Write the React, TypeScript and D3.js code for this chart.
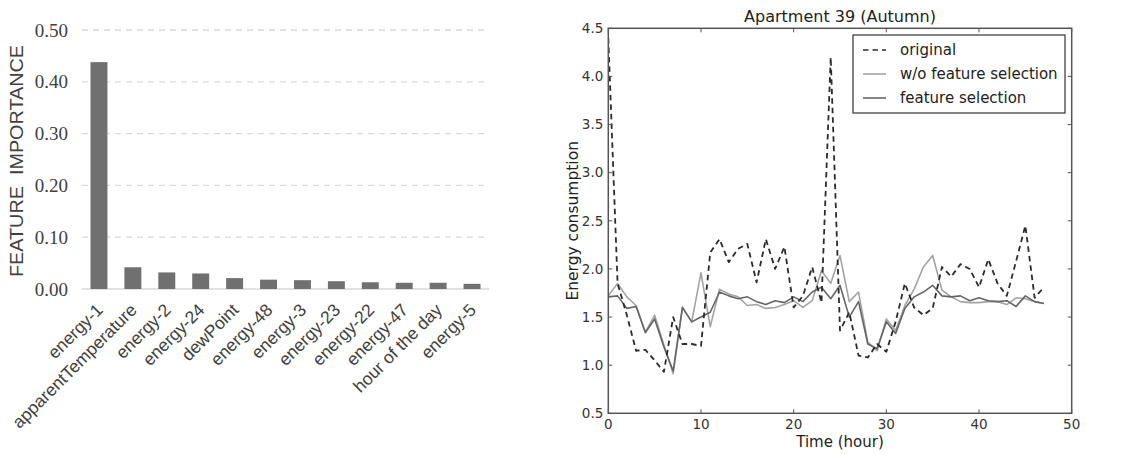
import React from 'react';
import * as d3 from 'd3';

// left panel: feature importance
const features = [
  'energy-1', 'apparentTemperature', 'energy-2', 'energy-24', 'dewPoint', 'energy-48',
  'energy-3', 'energy-23', 'energy-22', 'energy-47', 'hour of the day', 'energy-5',
];
const importance = [0.438, 0.042, 0.032, 0.030, 0.021, 0.018, 0.017, 0.015, 0.013, 0.012, 0.012, 0.010];
const importanceTicks = [0, 0.1, 0.2, 0.3, 0.4, 0.5];

// right panel: Apartment 39 (Autumn)
const hours = d3.range(48);
const original = [
  4.4, 1.85, 1.52, 1.15, 1.16, 1.05, 0.93, 1.5, 1.22, 1.22, 1.2, 2.17, 2.31, 2.07, 2.21, 2.26,
  1.86, 2.31, 2.0, 2.23, 1.6, 1.72, 2.02, 1.65, 4.2, 1.36, 1.55, 1.1, 1.08, 1.22, 1.14, 1.45,
  1.85, 1.6, 1.52, 1.59, 2.02, 1.92, 2.05, 2.0, 1.81, 2.1, 1.85, 1.72, 2.08, 2.45, 1.7, 1.81,
];
const withoutSelection = [
  1.72, 1.85, 1.71, 1.62, 1.34, 1.52, 1.21, 0.91, 1.6, 1.45, 1.96, 1.4, 1.79, 1.74, 1.71, 1.62,
  1.63, 1.59, 1.6, 1.63, 1.67, 1.6, 1.67, 1.98, 1.85, 2.14, 1.66, 1.76, 1.24, 1.15, 1.48, 1.36,
  1.62, 1.79, 2.02, 2.14, 1.78, 1.71, 1.66, 1.65, 1.65, 1.66, 1.66, 1.63, 1.7, 1.69, 1.66, 1.64,
];
const withSelection = [
  1.71, 1.72, 1.59, 1.61, 1.34, 1.48, 1.19, 0.94, 1.6, 1.45, 1.5, 1.55, 1.76, 1.72, 1.69, 1.71,
  1.66, 1.63, 1.67, 1.65, 1.71, 1.66, 1.76, 1.81, 1.69, 1.83, 1.5, 1.66, 1.22, 1.17, 1.45, 1.33,
  1.59, 1.71, 1.76, 1.83, 1.72, 1.71, 1.72, 1.67, 1.7, 1.67, 1.66, 1.67, 1.61, 1.72, 1.66, 1.64,
];
const energyTicks = [0.5, 1.0, 1.5, 2.0, 2.5, 3.0, 3.5, 4.0, 4.5];
const timeTicks = [0, 10, 20, 30, 40, 50];
const legendItems = [
  { label: 'original', color: '#2b2b2b', dash: '5.5,4' },
  { label: 'w/o feature selection', color: '#a3a3a3', dash: '' },
  { label: 'feature selection', color: '#666666', dash: '' },
];

const W = 1122;
const H = 455;
const sans = '"DejaVu Sans", sans-serif';

function ImportanceChart() {
  const x = d3.scaleBand<string>().domain(features).range([82, 489]).paddingInner(0.5).paddingOuter(0.25);
  const y = d3.scaleLinear().domain([0, 0.5]).range([289, 30]);
  const fmt = d3.format('.2f');

  return (
    <g>
      {importanceTicks.map(t => (
        <g key={t}>
          <line
            x1={82} x2={489} y1={y(t)} y2={y(t)}
            stroke="#d9d9d9" strokeWidth={1.3}
            strokeDasharray={t === 0 ? undefined : '6,5'}
          />
          <text
            x={68} y={y(t)} dy="0.35em" textAnchor="end"
            fontFamily='"Liberation Serif", serif' fontSize={19} fill="#404040"
          >
            {fmt(t)}
          </text>
        </g>
      ))}
      {features.map((f, i) => (
        <rect
          key={f}
          x={x(f)} y={y(importance[i])}
          width={x.bandwidth()} height={y(0) - y(importance[i])}
          fill="#707070"
        />
      ))}
      {features.map(f => (
        <text
          key={f}
          transform={`translate(${(x(f) || 0) + x.bandwidth() / 2 + 5},${311}) rotate(-45)`}
          textAnchor="end"
          fontFamily='"Liberation Sans", Arial, sans-serif' fontSize={17.5} fill="#404040"
        >
          {f}
        </text>
      ))}
      <text
        transform="translate(23,161) rotate(-90)"
        textAnchor="middle"
        fontFamily='"Liberation Sans", Arial, sans-serif' fontSize={18} fill="#404040"
        style={{ whiteSpace: 'pre' }}
        textLength={232}
        lengthAdjust="spacingAndGlyphs"
      >
        {'FEATURE  IMPORTANCE'}
      </text>
    </g>
  );
}

function EnergyChart() {
  const left = 608.3;
  const right = 1071.7;
  const top = 28.3;
  const bottom = 413.3;
  const x = d3.scaleLinear().domain([0, 50]).range([left, right]);
  const y = d3.scaleLinear().domain([0.5, 4.5]).range([bottom, top]);
  const line = d3.line<number>().x((_, i) => x(hours[i])).y(d => y(d));
  const tickLen = 4;

  return (
    <g>
      <defs>
        <clipPath id="plotClip">
          <rect x={left} y={top} width={right - left} height={bottom - top} />
        </clipPath>
      </defs>
      <g clipPath="url(#plotClip)" fill="none" strokeLinejoin="round">
        <path d={line(withoutSelection) || ''} stroke={legendItems[1].color} strokeWidth={1.6} />
        <path d={line(withSelection) || ''} stroke={legendItems[2].color} strokeWidth={1.6} />
        <path d={line(original) || ''} stroke={legendItems[0].color} strokeWidth={1.8} strokeDasharray={legendItems[0].dash} />
      </g>
      <rect x={left} y={top} width={right - left} height={bottom - top} fill="none" stroke="#555" strokeWidth={1.5} />
      {energyTicks.map(t => (
        <g key={t}>
          <line x1={left} x2={left + tickLen} y1={y(t)} y2={y(t)} stroke="#555" />
          <line x1={right - tickLen} x2={right} y1={y(t)} y2={y(t)} stroke="#555" />
          <text x={left - 5} y={y(t)} dy="0.35em" textAnchor="end" fontFamily={sans} fontSize={13.5} fill="#333">
            {d3.format('.1f')(t)}
          </text>
        </g>
      ))}
      {timeTicks.map(t => (
        <g key={t}>
          <line x1={x(t)} x2={x(t)} y1={bottom} y2={bottom - tickLen} stroke="#555" />
          <line x1={x(t)} x2={x(t)} y1={top} y2={top + tickLen} stroke="#555" />
          <text x={x(t)} y={bottom + 16} textAnchor="middle" fontFamily={sans} fontSize={13.5} fill="#333">
            {t}
          </text>
        </g>
      ))}
      <text x={(left + right) / 2} y={22} textAnchor="middle" fontFamily={sans} fontSize={16} fill="#222">
        Apartment 39 (Autumn)
      </text>
      <text x={(left + right) / 2} y={447} textAnchor="middle" fontFamily={sans} fontSize={15} fill="#222">
        Time (hour)
      </text>
      <text
        transform={`translate(578,${(top + bottom) / 2}) rotate(-90)`}
        textAnchor="middle" fontFamily={sans} fontSize={15.5} fill="#222"
      >
        Energy consumption
      </text>
      <g>
        <rect x={853} y={35} width={212} height={78} fill="#fff" stroke="#333" strokeWidth={1.2} />
        {legendItems.map((item, i) => {
          const cy = 50 + i * 24;
          return (
            <g key={item.label}>
              <line
                x1={863} x2={886} y1={cy} y2={cy}
                stroke={item.color} strokeWidth={1.6}
                strokeDasharray={item.dash || undefined}
              />
              <text x={900} y={cy} dy="0.35em" fontFamily={sans} fontSize={15} fill="#222">
                {item.label}
              </text>
            </g>
          );
        })}
      </g>
    </g>
  );
}

export default function App() {
  return (
    <div style={{ position: 'absolute', left: 0, top: 0, background: '#fff' }}>
      <svg width={W} height={H} viewBox={`0 0 ${W} ${H}`} style={{ display: 'block' }}>
        <rect width={W} height={H} fill="#fff" />
        <ImportanceChart />
        <EnergyChart />
      </svg>
    </div>
  );
}
